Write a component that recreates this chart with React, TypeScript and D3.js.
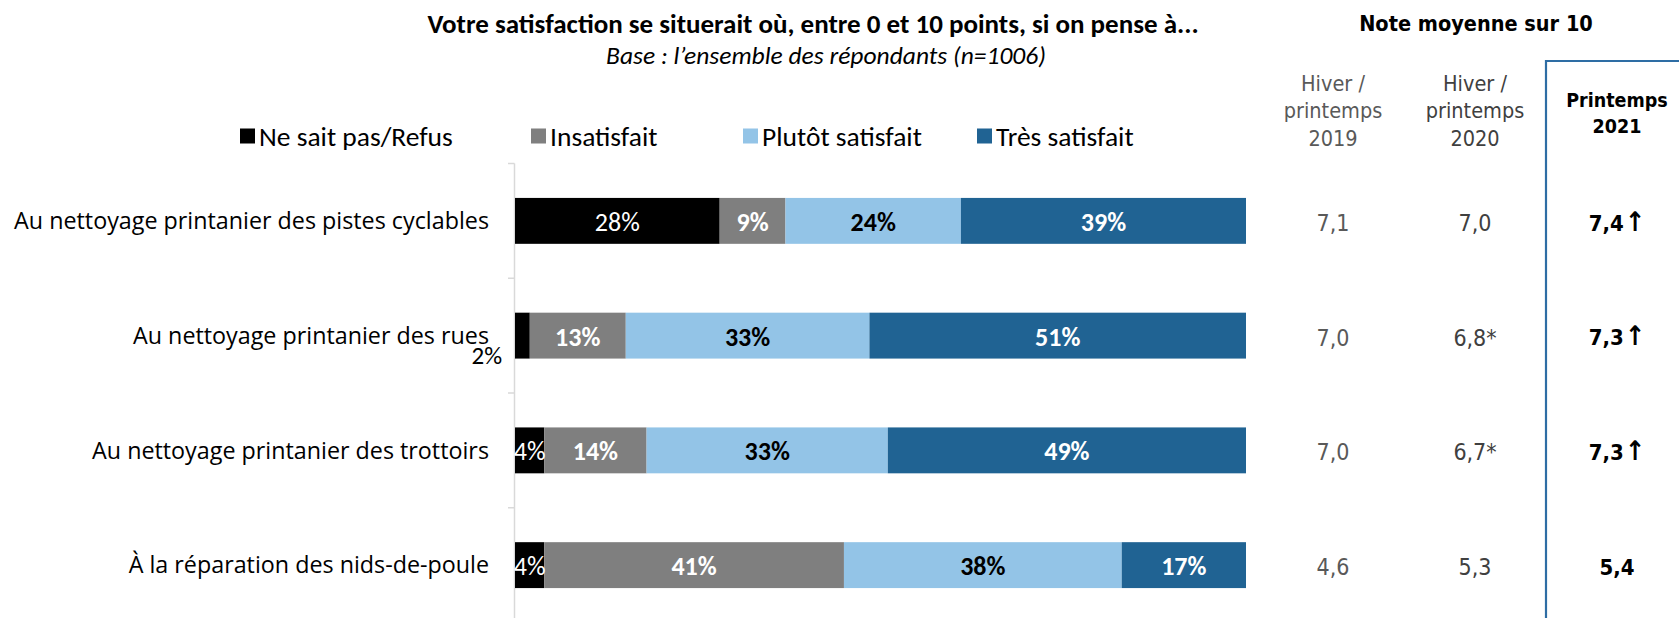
import React from "react";
import * as d3 from "d3";

const categories = [
  "Au nettoyage printanier des pistes cyclables",
  "Au nettoyage printanier des rues",
  "Au nettoyage printanier des trottoirs",
  "À la réparation des nids-de-poule",
];
const seriesNames = ["Ne sait pas/Refus", "Insatisfait", "Plutôt satisfait", "Très satisfait"];
const nspValues = [28, 2, 4, 4];
const insatValues = [9, 13, 14, 41];
const plutotValues = [24, 33, 33, 38];
const tresValues = [39, 51, 49, 17];

const notes2019 = [7.1, 7.0, 7.0, 4.6];
const notes2020 = [7.0, 6.8, 6.7, 5.3];
const flags2020 = ["", "*", "*", ""];
const notes2021 = [7.4, 7.3, 7.3, 5.4];
const arrows2021 = [true, true, true, false];
const colHeaders = [["Hiver /", "printemps", "2019"], ["Hiver /", "printemps", "2020"], ["Printemps", "2021"]];

const colors = ["#000000", "#7f7f7f", "#93c4e7", "#206393"];
const labelColors = ["#ffffff", "#ffffff", "#000000", "#ffffff"];
const labelWeights = ["normal", "bold", "bold", "bold"];

const W = 1679, H = 618;
const calibri = "Carlito, Calibri, 'Open Sans', sans-serif";
const segoe = "'Open Sans', 'Segoe UI', sans-serif";
const tahoma = "'DejaVu Sans Condensed', 'DejaVu Sans', Tahoma, sans-serif";

const fmt = (v: number) => d3.format(".1f")(v).replace(".", ",");

export default function App() {
  const rows = categories.map((c, i) => {
    const vals = [nspValues[i], insatValues[i], plutotValues[i], tresValues[i]];
    const total = d3.sum(vals);
    let acc = 0;
    const segs = vals.map((v, k) => {
      const s = { k, v, x0: acc / total, x1: (acc + v) / total };
      acc += v;
      return s;
    });
    return { c, i, segs };
  });

  const x = d3.scaleLinear().domain([0, 1]).range([515, 1246]);
  const y = d3.scaleBand<string>().domain(categories).range([163.5, 622.5]).paddingInner(0.6).paddingOuter(0.3);
  const step = y.step();
  const bw = y.bandwidth();
  const ticks = d3.range(categories.length + 1).map((k) => 163.5 + k * step);

  const colX = [1333, 1475, 1617];
  const legendX = [240, 531, 743, 977];
  const tStyle = { fontStretch: "condensed" as const };

  return (
    <svg width={W} height={H} style={{ position: "absolute", left: 0, top: 0, background: "#fff" }}>
      {/* Title */}
      <text x={813} y={32.5} textAnchor="middle" fontFamily={calibri} fontWeight="bold" fontSize={27} fill="#000">
        Votre satisfaction se situerait où, entre 0 et 10 points, si on pense à...
      </text>
      <text x={826} y={64} textAnchor="middle" fontFamily={calibri} fontStyle="italic" fontSize={25.5} fill="#000">
        Base : l’ensemble des répondants (n=1006)
      </text>

      {/* Legend */}
      {seriesNames.map((n, k) => (
        <g key={n}>
          <rect x={legendX[k]} y={128.5} width={15} height={15} fill={colors[k]} />
          <text x={legendX[k] + 19} y={136} dy="0.35em" fontFamily={calibri} fontSize={27.5} fill="#000">
            {n}
          </text>
        </g>
      ))}

      {/* Axis */}
      <line x1={514.5} x2={514.5} y1={163.5} y2={622.5} stroke="#d9d9d9" strokeWidth={1.5} />
      {ticks.map((t, k) => (
        <line key={k} x1={508} x2={514.5} y1={t} y2={t} stroke="#d9d9d9" strokeWidth={1.5} />
      ))}

      {/* Category labels */}
      {categories.map((c) => (
        <text key={c} x={489} y={(y(c) as number) + bw / 2} dy="0.35em" textAnchor="end" fontFamily={segoe} fontSize={23.3} fill="#000">
          {c}
        </text>
      ))}

      {/* Bars */}
      {rows.map((r) => (
        <g key={r.c}>
          {r.segs.map((s) => (
            <rect key={s.k} x={x(s.x0)} y={y(r.c)} width={x(s.x1) - x(s.x0)} height={bw} fill={colors[s.k]} />
          ))}
          {r.segs.map((s) => {
            const small = x(s.x1) - x(s.x0) < 35;
            const outside = s.v < 3;
            if (outside) {
              return (
                <text key={"l" + s.k} x={502} y={364} textAnchor="end" fontFamily={calibri} fontSize={25} fill="#000">
                  {s.v}%
                </text>
              );
            }
            return (
              <text
                key={"l" + s.k}
                x={(x(s.x0) + x(s.x1)) / 2}
                y={(y(r.c) as number) + bw / 2 + 1}
                dy="0.35em"
                textAnchor="middle"
                fontFamily={calibri}
                fontSize={26}
                fontWeight={small ? "normal" : labelWeights[s.k]}
                fill={labelColors[s.k]}
              >
                {s.v}%
              </text>
            );
          })}
        </g>
      ))}

      {/* Right table */}
      <text x={1476} y={31} textAnchor="middle" fontFamily={tahoma} style={tStyle} fontWeight="bold" fontSize={21.5} fill="#000">
        Note moyenne sur 10
      </text>
      <path d={`M${W + 5},61 L1546,61 L1546,${H + 5}`} fill="none" stroke="#2e6da4" strokeWidth={2.2} />
      {colHeaders.map((lines, j) =>
        lines.map((ln, li) => {
          const base = j < 2 ? 83 : 100;
          const sp = j < 2 ? 27.5 : 26;
          return (
            <text
              key={j + "-" + li}
              x={colX[j]}
              y={base + li * sp}
              dy="0.35em"
              textAnchor="middle"
              fontFamily={tahoma}
              style={tStyle}
              fontSize={j < 2 ? 21.5 : 19.5}
              fontWeight={j === 2 ? "bold" : "normal"}
              fill={j === 0 ? "#595959" : j === 1 ? "#404040" : "#000"}
            >
              {ln}
            </text>
          );
        })
      )}
      {categories.map((c, i) => {
        const cy = (y(c) as number) + bw / 2 + 2;
        return (
          <g key={"n" + c}>
            <text x={colX[0]} y={cy} dy="0.35em" textAnchor="middle" fontFamily={tahoma} style={tStyle} fontSize={23} fill="#595959">
              {fmt(notes2019[i])}
            </text>
            <text x={colX[1]} y={cy} dy="0.35em" textAnchor="middle" fontFamily={tahoma} style={tStyle} fontSize={23} fill="#404040">
              {fmt(notes2020[i]) + flags2020[i]}
            </text>
            <text x={colX[2]} y={cy} dy="0.35em" textAnchor="middle" fontFamily={tahoma} style={tStyle} fontSize={22} fill="#000">
              <tspan fontWeight="bold">{fmt(notes2021[i])}</tspan>
              {arrows2021[i] ? (
                <tspan fontWeight="bold" fontSize={27} dx={1}>
                  ↑
                </tspan>
              ) : null}
            </text>
          </g>
        );
      })}
    </svg>
  );
}
